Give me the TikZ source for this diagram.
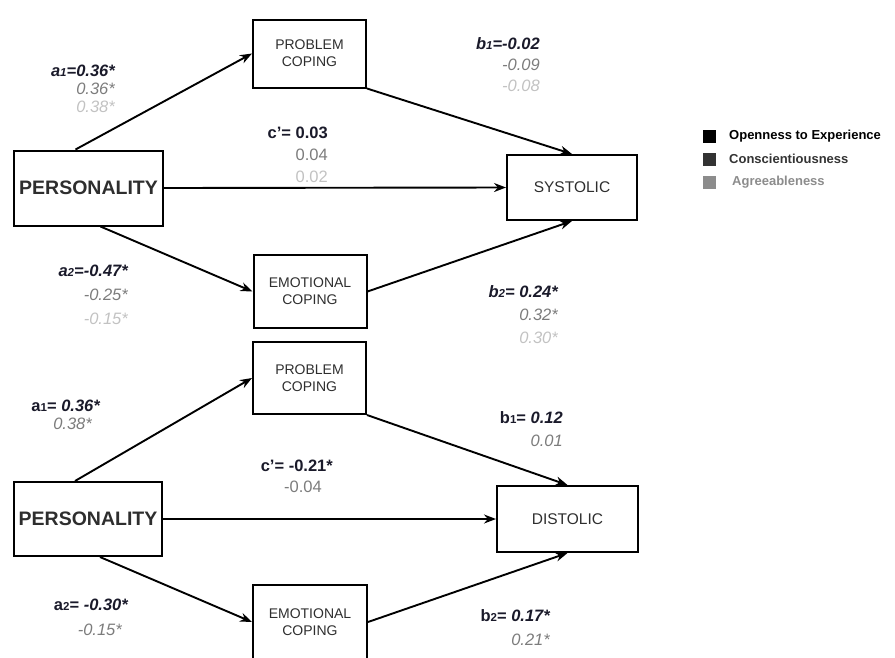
\documentclass[tikz,border=0pt]{standalone}
\usepackage{fontspec}
\setmainfont{Liberation Sans}
\usetikzlibrary{arrows.meta,positioning}
\definecolor{CoefInk}{HTML}{1A1A2A}
\definecolor{CoefGray}{HTML}{7C7C7C}
\definecolor{CoefLight}{HTML}{C2C2C2}
\definecolor{BoxInk}{HTML}{2E2E2E}
\definecolor{LegDark}{HTML}{333333}
\definecolor{LegGray}{HTML}{8C8C8C}
\newcommand{\sub}[1]{{\fontsize{11.5}{11.5}\selectfont #1}}
\tikzset{box/.style={draw,line width=2pt,align=center,text=BoxInk,minimum width=113pt,minimum height=68pt,font=\fontsize{14}{17}\selectfont},
  persbox/.style={box,font=\fontsize{19.5}{22}\selectfont\bfseries},
  outbox/.style={box,font=\fontsize{15.5}{18}\selectfont},
  arr/.style={-{Stealth[length=12pt,width=9pt]},line width=1.9pt},
  coef/.style={anchor=north east,align=right,inner sep=0pt,text=CoefInk,font=\fontsize{16.5}{#1}\selectfont},
  legsq/.style={minimum size=13pt,inner sep=0pt},
  legtxt/.style={anchor=west,inner sep=0pt,font=\fontsize{13}{15}\selectfont\bfseries}}

\begin{document}
\begin{tikzpicture}[x=1pt,y=-1pt]
\useasboundingbox (0,0) rectangle (895,657);
% systolic model
\node[box] (pc1) at (309.5,53.5) {PROBLEM\\COPING};
\node[persbox,minimum width=149pt,minimum height=75pt] (pers1) at (88.5,188) {PERSONALITY};
\node[outbox,minimum width=130pt,minimum height=65pt] (sys) at (572,187.5) {SYSTOLIC};
\node[box,minimum height=73pt] (ec1) at (310,291.5) {EMOTIONAL\\COPING};
\draw[arr] ([xshift=-13pt]pers1.north)--(pc1.west);
\draw[arr] (pc1.south east)--(sys.north);
\draw[arr] (pers1.east)--(sys.west);
\draw[arr] ([xshift=12pt]pers1.south)--(ec1.west);
\draw[arr] (ec1.east)--(sys.south);
\node[coef=18] (a1s) at (115,65) {\bfseries\itshape a\sub{1}=0.36*\\{\itshape\mdseries\color{CoefGray}0.36*}\\{\itshape\mdseries\color{CoefLight}0.38*}};
\node[coef=22] (cs) at (328,127) {\bfseries c'= 0.03\\{\mdseries\color{CoefGray}0.04}\\{\mdseries\color{CoefLight}0.02}};
\node[coef=21] (b1s) at (540,37) {\bfseries\itshape b\sub{1}=-0.02\\{\itshape\mdseries\color{CoefGray}-0.09}\\{\itshape\mdseries\color{CoefLight}-0.08}};
\node[coef=24] (a2s) at (128,265) {\bfseries\itshape a\sub{2}=-0.47*\\{\itshape\mdseries\color{CoefGray}-0.25*}\\{\itshape\mdseries\color{CoefLight}-0.15*}};
\node[coef=23] (b2s) at (558,285) {\bfseries\itshape b\sub{2}= 0.24*\\{\itshape\mdseries\color{CoefGray}0.32*}\\{\itshape\mdseries\color{CoefLight}0.30*}};
% legend
\node[legsq,fill=black] (sqo) at (709,136) {};
\node[legsq,fill=LegDark] (sqc) at (709,159) {};
\node[legsq,fill=LegGray] (sqa) at (709,182) {};
\node[legtxt] (lo) at (729,136) {Openness to Experience};
\node[legtxt,text=LegDark] (lc) at (729,159) {Conscientiousness};
\node[legtxt,text=LegGray] (la) at (732,182) {Agreeableness};
% distolic model
\node[box,minimum height=72pt] (pc2) at (309.5,378) {PROBLEM\\COPING};
\node[persbox,minimum width=148pt,minimum height=74pt] (pers2) at (88,519) {PERSONALITY};
\node[outbox,minimum width=141pt,minimum height=66pt] (dis) at (567.5,519) {DISTOLIC};
\node[box,minimum width=114pt,minimum height=74pt] (ec2) at (310,622) {EMOTIONAL\\COPING};
\draw[arr] ([xshift=-13pt]pers2.north)--(pc2.west);
\draw[arr] (pc2.south east)--(dis.north);
\draw[arr] (pers2.east)--(dis.west);
\draw[arr] ([xshift=12pt]pers2.south)--(ec2.west);
\draw[arr] (ec2.east)--(dis.south);
\node[coef=18] (a1d) at (100,400) {\bfseries a\sub{1}= {\itshape 0.36*}\\{\itshape\mdseries\color{CoefGray}0.38*}\hspace*{8pt}};
\node[coef=21] (cd) at (333,460) {\bfseries c'= -0.21*\\{\mdseries\color{CoefGray}-0.04}\hspace*{11pt}};
\node[coef=23] (b1d) at (563,411) {\bfseries b\sub{1}= {\itshape 0.12}\\{\itshape\mdseries\color{CoefGray}0.01}};
\node[coef=25] (a2d) at (128,599) {\bfseries a\sub{2}= {\itshape -0.30*}\\{\itshape\mdseries\color{CoefGray}-0.15*}\hspace*{6pt}};
\node[coef=24] (b2d) at (550,609) {\bfseries b\sub{2}= {\itshape 0.17*}\\{\itshape\mdseries\color{CoefGray}0.21*}};
\end{tikzpicture}
\end{document}
